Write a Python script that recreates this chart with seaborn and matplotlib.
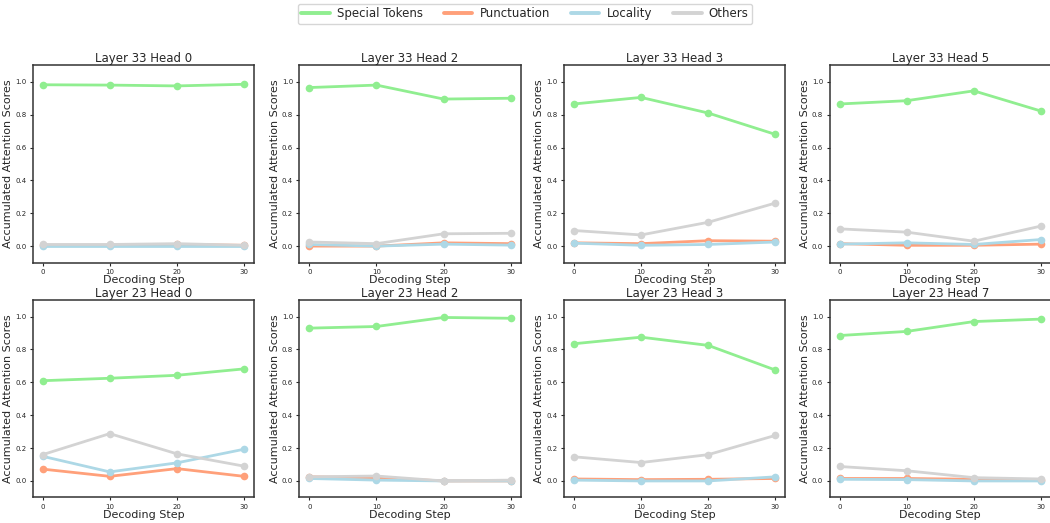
import numpy as np
import pandas as pd
import seaborn as sns
import matplotlib.pyplot as plt
from matplotlib.lines import Line2D

# -------------------------
# Data
# -------------------------
steps = [0, 10, 20, 30]
categories = ["Special Tokens", "Punctuation", "Locality", "Others"]
colors = ["#90EE90", "#FFA07A", "#ADD8E6", "#D3D3D3"]

titles = ["Layer 33 Head 0", "Layer 33 Head 2", "Layer 33 Head 3", "Layer 33 Head 5",
          "Layer 23 Head 0", "Layer 23 Head 2", "Layer 23 Head 3", "Layer 23 Head 7"]

special = [
    [0.982, 0.980, 0.975, 0.985],
    [0.965, 0.980, 0.895, 0.900],
    [0.865, 0.905, 0.810, 0.680],
    [0.865, 0.885, 0.945, 0.822],
    [0.610, 0.625, 0.643, 0.682],
    [0.930, 0.940, 0.995, 0.990],
    [0.835, 0.875, 0.825, 0.675],
    [0.885, 0.910, 0.970, 0.985],
]
punctuation = [
    [0.005, 0.005, 0.010, 0.005],
    [0.000, 0.000, 0.020, 0.015],
    [0.020, 0.015, 0.033, 0.030],
    [0.015, 0.005, 0.005, 0.012],
    [0.072, 0.028, 0.075, 0.028],
    [0.025, 0.020, 0.000, 0.000],
    [0.012, 0.008, 0.010, 0.015],
    [0.015, 0.015, 0.010, 0.005],
]
locality = [
    [0.000, 0.000, 0.000, 0.000],
    [0.010, 0.000, 0.012, 0.006],
    [0.018, 0.005, 0.010, 0.025],
    [0.012, 0.020, 0.010, 0.040],
    [0.150, 0.055, 0.110, 0.193],
    [0.015, 0.005, 0.000, 0.000],
    [0.005, 0.000, 0.000, 0.025],
    [0.010, 0.008, 0.000, 0.000],
]
others = [
    [0.010, 0.010, 0.015, 0.005],
    [0.025, 0.015, 0.075, 0.078],
    [0.095, 0.068, 0.145, 0.262],
    [0.105, 0.085, 0.030, 0.122],
    [0.160, 0.288, 0.165, 0.090],
    [0.025, 0.030, 0.000, 0.005],
    [0.147, 0.112, 0.160, 0.277],
    [0.088, 0.062, 0.020, 0.012],
]

# -------------------------
# Long table for seaborn
# -------------------------
rows = []
for i, t in enumerate(titles):
    for cat, vals in zip(categories, [special, punctuation, locality, others]):
        for s, v in zip(steps, vals[i]):
            rows.append({"panel": t, "category": cat, "step": s, "score": v})
df = pd.DataFrame(rows)

# -------------------------
# Plot
# -------------------------
sns.set_style("white")
plt.rcParams["font.family"] = ["DejaVu Sans"]

fig, axes = plt.subplots(2, 4, figsize=(10.5, 5.23), dpi=100)

# axes boxes placed to match the reference layout (figure fractions)
lefts = [0.031, 0.285, 0.537, 0.790]
bottoms = [0.498, 0.049]
w, h = 0.211, 0.377

palette = dict(zip(categories, colors))

for k, (ax, t) in enumerate(zip(axes.flat, titles)):
    ax.set_position([lefts[k % 4], bottoms[k // 4], w, h])
    sub = df[df["panel"] == t]
    sns.lineplot(data=sub, x="step", y="score", hue="category", hue_order=categories,
                 palette=palette, marker="o", markersize=5.5, markeredgewidth=0,
                 linewidth=2.0, ax=ax, legend=False)
    ax.set_title(t, fontsize=8.5, pad=2.5)
    ax.set_xlabel("Decoding Step", fontsize=8, labelpad=0.5)
    ax.set_ylabel("Accumulated Attention Scores", fontsize=8, labelpad=1.5)
    ax.set_ylim(-0.1, 1.1)
    ax.set_xticks(steps)
    ax.set_yticks([0.0, 0.2, 0.4, 0.6, 0.8, 1.0])
    ax.tick_params(axis="both", labelsize=5, length=2.5, width=0.8, direction="out",
                   bottom=True, left=True, pad=2)
    for sp in ax.spines.values():
        sp.set_color("#333333")
        sp.set_linewidth(1.1)

handles = [Line2D([0], [0], color=c, lw=2.8) for c in colors]
fig.legend(handles, categories, loc="upper center", ncol=4, fontsize=8.5,
           bbox_to_anchor=(0.5, 1.004), frameon=True, handlelength=2.4,
           handletextpad=0.6, columnspacing=1.8, borderpad=0.3)

plt.savefig("out.png", dpi=100)
